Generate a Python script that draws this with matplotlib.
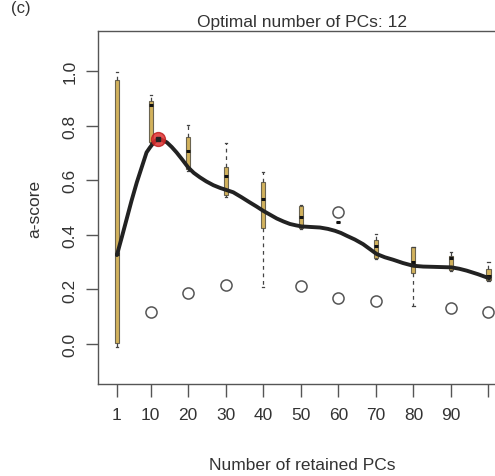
import matplotlib
matplotlib.use("Agg")
import matplotlib.pyplot as plt

plt.rcParams["font.family"] = ["Liberation Sans", "DejaVu Sans"]

# a-score boxplots per number of retained PCs
pcs = [1, 10, 20, 30, 40, 50, 60, 70, 80, 90, 100]
q1 = [0.004, 0.739, 0.641, 0.545, 0.427, 0.427, 0.449, 0.315, 0.260, 0.272, 0.236]
med = [0.33, 0.877, 0.706, 0.617, 0.531, 0.464, 0.449, 0.358, 0.299, 0.314, 0.248]
q3 = [0.968, 0.891, 0.759, 0.647, 0.592, 0.504, 0.449, 0.382, 0.354, 0.321, 0.275]
whis_hi = [0.995, 0.912, 0.803, 0.736, 0.629, 0.510, 0.449, 0.403, 0.356, 0.336, 0.301]
whis_lo = [-0.012, 0.735, 0.635, 0.540, 0.208, 0.422, 0.449, 0.310, 0.138, 0.268, 0.232]
outliers = [[], [0.116], [0.187], [0.216], [], [0.211], [0.485, 0.168],
            [0.159], [], [0.131], [0.118]]

# smoothed a-score curve
curve_x = [1, 2.3, 3.6, 4.9, 6.3, 7.6, 8.9, 9.8, 10.7, 11.4, 12, 12.8, 14.3,
           15.6, 16.9, 18.4, 20, 21.5, 23.1, 24.8, 26.7, 28.5, 30.7, 32,
           34.2, 36.4, 38.2, 40, 41.8, 43.6, 45.4, 47.1, 48.7, 50.2, 52.6,
           55.1, 57.2, 59.1, 60.7, 62.2, 64.4, 66.6, 68.4, 70.2, 72.4, 74.6,
           77.2, 79.9, 82.6, 85.3, 87.8, 90.2, 92.2, 94.2, 97.2, 100.2]
curve_y = [0.326, 0.391, 0.458, 0.525, 0.592, 0.647, 0.702, 0.720, 0.736,
           0.746, 0.751, 0.749, 0.739, 0.722, 0.702, 0.676, 0.647, 0.627,
           0.611, 0.596, 0.582, 0.572, 0.562, 0.556, 0.538, 0.519, 0.504,
           0.488, 0.474, 0.460, 0.449, 0.440, 0.435, 0.431, 0.429, 0.427,
           0.422, 0.415, 0.407, 0.397, 0.383, 0.366, 0.348, 0.330, 0.318,
           0.309, 0.297, 0.287, 0.284, 0.283, 0.282, 0.281, 0.276, 0.269,
           0.256, 0.241]

best_pc = 12
best_score = 0.751

fig = plt.figure(figsize=(4.95, 4.77), dpi=100)
ax = fig.add_axes([0.198, 0.1935, 0.826, 0.739])

stats = []
for i in range(len(pcs)):
    stats.append({"med": med[i], "q1": q1[i], "q3": q3[i],
                  "whislo": whis_lo[i], "whishi": whis_hi[i],
                  "fliers": outliers[i]})

ax.bxp(stats, positions=pcs, widths=1.1, patch_artist=True,
       boxprops=dict(facecolor="#d2b25c", edgecolor="#6b6450", linewidth=0.8),
       medianprops=dict(color="#111111", linewidth=2.2),
       whiskerprops=dict(color="#444444", linestyle=(0, (3, 3)), linewidth=0.9),
       capprops=dict(color="#444444", linewidth=0.9),
       flierprops=dict(marker="o", markersize=8, markerfacecolor="none",
                       markeredgecolor="#555555", markeredgewidth=1.1),
       capwidths=0.6, manage_ticks=False)

ax.plot(curve_x, curve_y, color="#222222", linewidth=2.8, solid_capstyle="round",
        solid_joinstyle="round", zorder=4)
ax.plot([best_pc], [best_score], "o", markersize=10, markerfacecolor="#e03030",
        markeredgecolor="#c02020", alpha=0.85, zorder=5)
ax.plot([best_pc], [best_score], "s", markersize=2.5, color="#222222", zorder=6)

ax.set_xlim(-4.03, 104.9)
ax.set_ylim(-0.145, 1.146)
ax.set_xticks(pcs)
ax.set_xticklabels([str(p) for p in pcs[:-1]] + [""])
ax.set_yticks([0.0, 0.2, 0.4, 0.6, 0.8, 1.0])
ax.set_yticklabels(["0.0", "0.2", "0.4", "0.6", "0.8", "1.0"], rotation=90,
                   va="center")

for s in ax.spines.values():
    s.set_color("#555555")
    s.set_linewidth(1.0)
ax.tick_params(direction="out", length=9, width=1.0, color="#555555",
               labelsize=12.5, labelcolor="#333333", pad=8)
ax.tick_params(axis="y", pad=6)

ax.set_xlabel("Number of retained PCs", fontsize=12.5, color="#333333",
              labelpad=25)
ax.set_ylabel("a-score", fontsize=12.5, color="#333333", labelpad=14)
ax.set_title("Optimal number of PCs: 12", fontsize=12.5, color="#333333", pad=4)

fig.text(0.022, 0.998, "(c)", fontsize=12, color="#333333", va="top")

fig.savefig("out.png", dpi=100)
